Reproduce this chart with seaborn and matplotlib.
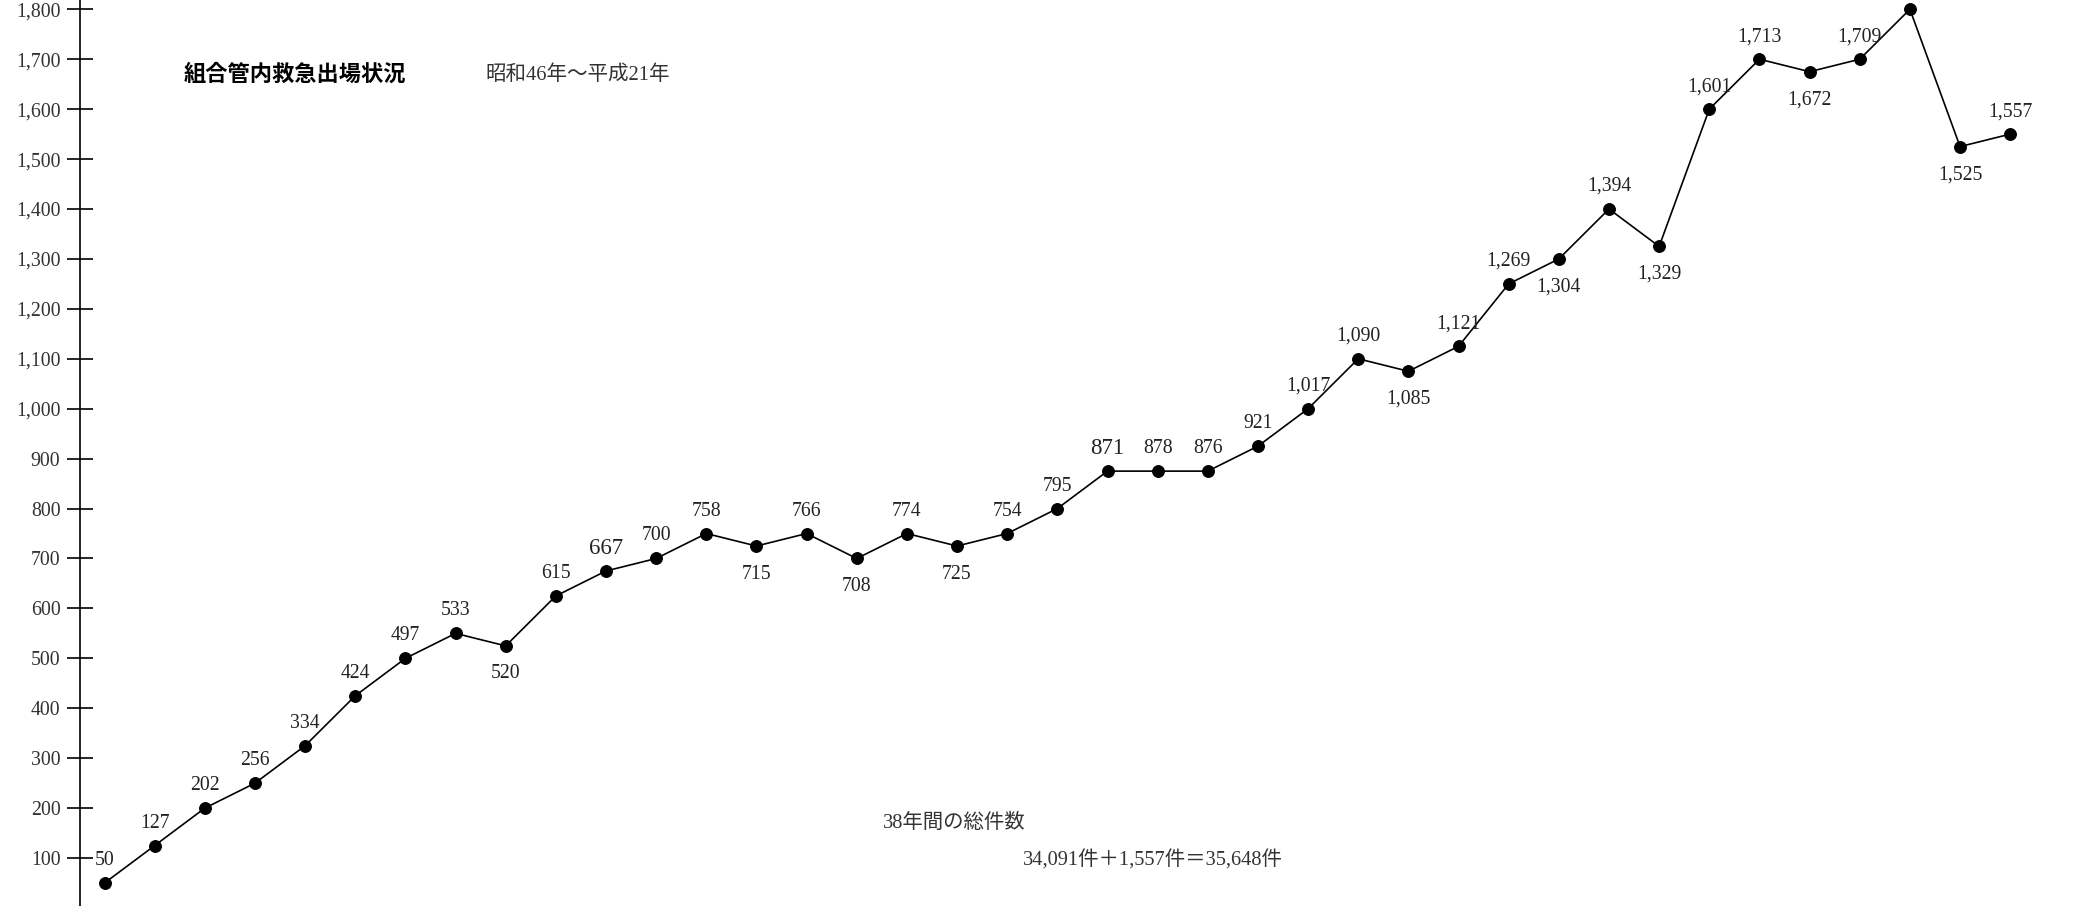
import matplotlib
matplotlib.use("Agg")
import matplotlib.pyplot as plt
import seaborn as sns
import pandas as pd

# Years: 昭和46年 (1971) – 平成21年 (2009)
years = list(range(1971, 2010))
# Values as drawn (positions of the dots on the chart)
counts_drawn = [50, 125, 200, 250, 325, 425, 500, 550, 525, 625,
                675, 700, 750, 725, 750, 700, 750, 725, 750, 800,
                875, 875, 875, 925, 1000, 1100, 1075, 1125, 1250, 1300,
                1400, 1325, 1600, 1700, 1675, 1700, 1800, 1525, 1550]
# Value labels printed next to the dots ("" = no label)
count_labels = ["50", "127", "202", "256", "334", "424", "497", "533", "520", "615",
                "667", "700", "758", "715", "766", "708", "774", "725", "754", "795",
                "871", "878", "876", "921", "1,017", "1,090", "1,085", "1,121", "1,269", "1,304",
                "1,394", "1,329", "1,601", "1,713", "1,672", "1,709", "", "1,525", "1,557"]
label_side = ["a", "a", "a", "a", "a", "a", "a", "a", "b", "a",
              "a", "a", "a", "b", "a", "b", "a", "b", "a", "a",
              "a", "a", "a", "a", "a", "a", "b", "a", "a", "b",
              "a", "b", "a", "a", "b", "a", "", "b", "a"]
y_ticks = list(range(100, 1801, 100))

title = "組合管内救急出場状況"
subtitle = "昭和46年～平成21年"
total_title = "38年間の総件数"
total_formula = "34,091件＋1,557件＝35,648件"

sns.set_theme(style="white")
plt.rcParams["font.family"] = ["Liberation Serif", "Noto Sans CJK JP", "DejaVu Sans"]

W, H = 2076, 906
fig = plt.figure(figsize=(W / 100, H / 100), dpi=100)
ax = fig.add_axes([0, 0, 1, 1])
ax.set_facecolor("white")

df = pd.DataFrame({"idx": range(len(years)), "count": counts_drawn})
sns.lineplot(data=df, x="idx", y="count", ax=ax, color="black", linewidth=1.2,
             marker="o", markersize=8.5, markeredgecolor="black", markerfacecolor="black")

big_labels = {10, 20}
for i, (v, lab, side) in enumerate(zip(counts_drawn, count_labels, label_side)):
    if not lab:
        continue
    dy = 16.2 if side == "a" else -20.2
    fs = 16.5 if i in big_labels else 14.2
    ax.annotate(lab, (i, v), xytext=(0, dy), textcoords="offset points",
                ha="center", va="center", fontsize=fs, color="#222222")

x0_px, step_px = 104.5, 50.15
ax.set_xlim(-x0_px / step_px, (W - x0_px) / step_px)
ax.set_ylim(4, 1818.6)
for s in ["top", "right", "bottom"]:
    ax.spines[s].set_visible(False)
ax.spines["left"].set_position(("data", (80.4 - x0_px) / step_px))
ax.spines["left"].set_color("black")
ax.spines["left"].set_linewidth(1.2)
ax.set_xticks([])
ax.set_yticks(y_ticks)
ax.set_yticklabels([f"{t:,}" for t in y_ticks])
ax.tick_params(axis="y", direction="inout", length=18.7, width=1.2, pad=5,
               labelsize=14.3, colors="black", labelcolor="#333333", left=True)
ax.set_xlabel("")
ax.set_ylabel("")

def ftxt(x, y, s, **kw):
    fig.text(x / W, 1 - y / H, s, ha="left", va="center", **kw)

ftxt(184, 75.5, title, fontsize=16, fontweight="bold", color="black")
ftxt(485, 75.5, subtitle, fontsize=14.8, color="#333333")
ftxt(883, 823.5, total_title, fontsize=14.7, color="#333333")
ftxt(1023, 860.5, total_formula, fontsize=14.7, color="#333333")

fig.savefig("out.png", dpi=100, facecolor="white")
